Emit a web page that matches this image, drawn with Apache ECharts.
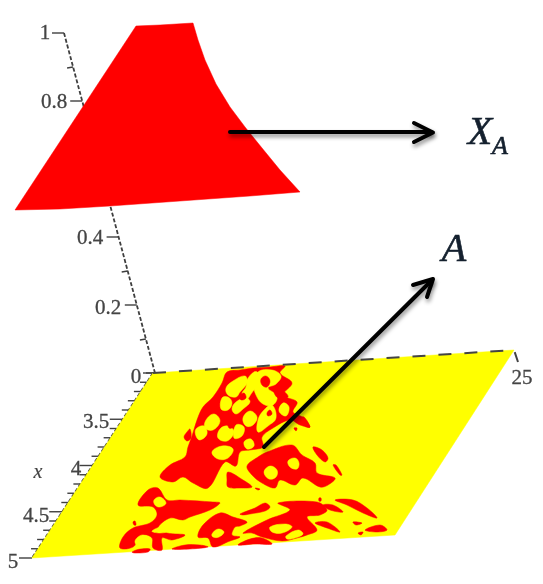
<!DOCTYPE html>
<html><head><meta charset="utf-8">
<style>html,body{margin:0;padding:0;background:#fff}#c{width:543px;height:584px;filter:blur(0.5px)}</style>
<script src="https://cdn.jsdelivr.net/npm/echarts@6/dist/echarts.min.js"></script>
</head><body><div id="c"></div>
<script>
const upperSurface = [[15,210],[136,26],[160,25],[193,23],[198,40],[205,60],[216,84],[230,107],[245,127],[262,148],[280,170],[300,192],[250,196],[180,201],[110,206],[60,209]];
const plane = [[153,373],[514,350],[395,535],[32,558]];
const redMasses = [
 [[222,383],[227,372],[240,370],[253,368],[270,367],[285,366],[280,373],[292,383],[283,395],[297,402],[293,412],[302,417],[310,427],[300,425],[290,420],[273,428],[262,437],[263,447],[250,450],[240,452],[236,466],[225,462],[208,488],[193,483],[183,477],[173,482],[160,477],[170,465],[185,457],[188,447],[192,436],[197,420],[203,407],[213,397]],
 [[187,432],[190,429],[191,438],[187,441],[184,437]],
 [[138,505],[148,490],[158,488],[167,500],[180,500],[213,502],[220,503],[210,510],[190,517],[183,520],[170,518],[158,528],[167,533],[185,535],[172,540],[162,538],[162,550],[153,548],[152,538],[143,535],[133,547],[120,548],[123,537],[133,528],[150,523],[157,515],[153,507]],
 [[198,537],[203,525],[220,513],[233,517],[247,522],[240,526],[235,527],[232,535],[240,537],[230,541],[213,547],[208,538]],
 [[240,514],[255,508],[265,503],[270,507],[265,511],[250,514],[243,515]],
 [[243,533],[267,520],[290,510],[278,503],[317,502],[327,510],[320,515],[307,517],[317,530],[307,535],[297,538],[282,541],[262,537],[252,533]],
 [[247,466],[258,457],[267,452],[292,445],[302,455],[315,463],[317,473],[335,478],[328,485],[320,487],[303,478],[295,485],[280,480],[275,488],[262,483],[252,475]],
 [[227,480],[228,472],[243,480],[252,487],[240,488],[228,487]],
 [[313,447],[322,450],[328,458],[325,462],[317,455]],
 [[333,465],[336,465],[342,475],[340,475]],
 [[315,523],[327,522],[340,532],[327,528]],
 [[323,505],[333,505],[343,512],[330,510]],
 [[335,500],[353,500],[367,508],[377,518],[363,513],[347,505]],
 [[353,522],[362,523],[356,525]],
 [[365,530],[380,525],[387,530],[377,532]],
 [[358,533],[363,532],[361,535]],
 [[133,522],[135,521],[136,525],[134,525]],
 [[319,498],[321,498],[321,501],[319,501]],
 [[132,552],[140,549],[150,549],[148,552],[135,553]],
 [[172,549],[185,545],[200,545],[208,547],[190,549]],
 [[238,545],[250,539],[262,538],[272,544],[255,544]],
 [[255,488],[260,489],[258,490]],
 [[300,418],[304,417],[310,427],[305,426]],
 [[294,428],[297,428],[296,431]]
];
const yellowHoles = [
 [[226,388],[233,381],[245,376],[247,383],[240,392],[236,397],[228,395]],
 [[247,380],[254,372],[258,373],[257,384],[251,394],[246,400],[242,394],[246,387]],
 [[258,372],[272,370],[281,376],[276,384],[268,388],[277,396],[273,405],[263,404],[256,395],[254,385]],
 [[222,398],[228,397],[232,403],[228,410],[221,409]],
 [[236,402],[246,398],[250,402],[243,409],[236,414],[232,409]],
 [[243,418],[250,411],[257,417],[253,425],[246,426]],
 [[206,420],[214,414],[220,421],[213,430],[205,428]],
 [[220,429],[228,426],[234,432],[227,441],[218,438]],
 [[196,429],[204,426],[207,434],[200,440],[196,436]],
 [[236,425],[244,427],[242,436],[234,438]],
 [[258,420],[264,410],[272,405],[276,418],[268,426],[258,432]],
 [[283,403],[289,407],[286,416],[279,411]],
 [[212,452],[222,446],[233,449],[228,458],[218,459]],
 [[244,442],[251,439],[254,446],[247,449]],
 [[264,472],[270,466],[277,470],[276,477],[269,479]],
 [[288,461],[295,458],[299,463],[297,469],[290,467]],
 [[154,500],[160,497],[166,503],[160,507],[155,505]],
 [[212,534],[218,529],[224,532],[219,537],[213,537]],
 [[270,527],[285,524],[292,527],[282,533],[272,532]],
 [[286,536],[298,530],[303,534],[295,538],[287,539]],
 [[152,531],[168,525],[178,527],[170,531],[160,533]],
 [[135,541],[143,535],[148,543],[140,548]]
];
const redSpots = [
 [[261,379],[266,376],[270,381],[267,387],[262,385]],
 [[274,390],[283,391],[288,397],[278,398]],
 [[267,413],[270,410],[272,414],[268,416]],
 [[240,396],[244,393],[246,398],[241,400]],
 [[228,421],[233,419],[233,427],[229,428]]
];
const zAxisLine = [[64,33],[155,373]];
const xAxisLine = [[153,373],[32,558]];
const topAxisLine = [[153,373],[514,350],[518,362]];
const zTickValues = [0,0.1,0.2,0.3,0.4,0.5,0.6,0.7,0.8,0.9,1];
const zMajorTicks = [0,0.2,0.4,0.6,0.8,1];
const xTickValues = [3,3.1,3.2,3.3,3.4,3.5,3.6,3.7,3.8,3.9,4,4.1,4.2,4.3,4.4,4.5,4.6,4.7,4.8,4.9,5];
const xMajorTicks = [3.5,4,4.5,5];
const tickLabels = [
 ['1',45,33],['0.8',54,102],['0.4',90,238],['0.2',108,308],['0',136,377],
 ['3.5',96,422],['4',76,469],['4.5',36,516],['5',13,562],['25',522,378]
];
const arrows = [
 [[230,132],[431,132]],
 [[414,123],[433,132.5],[414,142]],
 [[264,447],[431,281]],
 [[413,285],[433,279],[427,297]]
];

const lerp=(a,b,t)=>[a[0]+(b[0]-a[0])*t,a[1]+(b[1]-a[1])*t];
const zTicks=zTickValues.map(v=>{const p=lerp(zAxisLine[1],zAxisLine[0],v);const m=zMajorTicks.some(q=>Math.abs(q-v)<1e-6);return [[p[0]-(m?12:6),p[1]-(m?0:-1)],p];});
const xTicks=xTickValues.map(v=>{const p=lerp(xAxisLine[0],xAxisLine[1],(v-3)/2);const m=xMajorTicks.some(q=>Math.abs(q-v)<1e-6);return [[p[0]-(m?13:7),p[1]],p];});

function polySeries(name,list,color,smooth,z){
 return {type:'custom',name,coordinateSystem:'cartesian2d',z,silent:true,clip:false,animation:false,
  data:list.map((_,i)=>[i]),
  renderItem:(p,api)=>({type:'polygon',shape:{points:list[api.value(0)].map(q=>api.coord(q)),smooth},style:{fill:color,stroke:color,lineWidth:0.5}})};
}
function lineSeries(name,list,style,z,shadow){
 return {type:'custom',name,coordinateSystem:'cartesian2d',z,silent:true,clip:false,animation:false,
  data:list.map((_,i)=>[i]),
  renderItem:(p,api)=>({type:'polyline',shape:{points:list[api.value(0)].map(q=>api.coord(q))},style:Object.assign({fill:null},style,shadow||{})})};
}
function textSeries(name,list,font,color,z,sw){
 return {type:'custom',name,coordinateSystem:'cartesian2d',z,silent:true,clip:false,animation:false,
  data:list.map((_,i)=>[i]),
  renderItem:(p,api)=>{const t=list[api.value(0)];const c=api.coord([t[1],t[2]]);
   return {type:'text',style:{text:t[0],x:c[0],y:c[1],font:t[3]||font,fill:color,stroke:color,lineWidth:sw,align:'center',verticalAlign:'middle'}};}};
}
const chart=echarts.init(document.getElementById('c'),null,{renderer:'canvas'});
const grey='#3f3f3f';
chart.setOption({
 animation:false,backgroundColor:'#fff',
 grid:{left:0,right:0,top:0,bottom:0},
 xAxis:{type:'value',min:0,max:543,show:false},
 yAxis:{type:'value',min:0,max:584,inverse:true,show:false},
 series:[
  lineSeries('zAxis',[zAxisLine],{stroke:grey,lineWidth:1.8,lineDash:[4,2]},1),
  lineSeries('zTicks',zTicks,{stroke:grey,lineWidth:1.4},1),
  lineSeries('xTicks',xTicks,{stroke:grey,lineWidth:1.4},1),
  lineSeries('xAxis',[xAxisLine],{stroke:grey,lineWidth:1.8,lineDash:[4,2]},1),
  polySeries('plane',[plane],'#ffff00',0,2),
  polySeries('A',redMasses,'#ff0000',0.35,3),
  polySeries('holes',yellowHoles,'#ffff00',0.4,4),
  polySeries('spots',redSpots,'#ff0000',0.4,5),
  lineSeries('topAxis',[topAxisLine],{stroke:'#444',lineWidth:2,lineDash:[13,13]},6),
  polySeries('XA',[upperSurface],'#ff0000',0,7),
  textSeries('ticks',tickLabels,'21px "Liberation Serif"','#444',8,0.3),
  textSeries('xname',[['x',38,473]],'italic 20px "Liberation Serif"','#444',8,0.2),
  lineSeries('arrows',arrows,{stroke:'#000',lineWidth:4,lineCap:'round',lineJoin:'round'},9,{shadowBlur:4,shadowColor:'rgba(0,0,0,0.45)',shadowOffsetX:1,shadowOffsetY:3}),
  textSeries('labels',[['X',480,133],['A',500,147,'italic 26px "Liberation Serif"'],['A',454,250]],'italic 40px "Liberation Serif"','#14202e',10,0.6)
 ]
});
</script></body></html>
